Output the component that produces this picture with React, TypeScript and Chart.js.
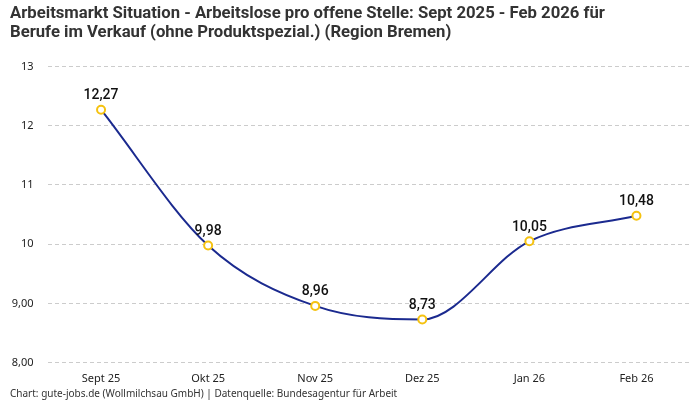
import { useEffect, useRef } from 'react';
import { Chart, registerables } from 'chart.js';
import type { Plugin } from 'chart.js';

Chart.register(...registerables);

const months = ['Sept 25', 'Okt 25', 'Nov 25', 'Dez 25', 'Jan 26', 'Feb 26'];
const ratio = [12.27, 9.98, 8.96, 8.73, 10.05, 10.48];
const yTickLabels: Record<number, string> = { 8: '8,00', 9: '9,00', 10: '10', 11: '11', 12: '12', 13: '13' };

const titleLines = [
  'Arbeitsmarkt Situation - Arbeitslose pro offene Stelle: Sept 2025 - Feb 2026 für',
  'Berufe im Verkauf (ohne Produktspezial.) (Region Bremen)',
];
const sourceText = 'Chart: gute-jobs.de (Wollmilchsau GmbH) | Datenquelle: Bundesagentur für Arbeit';

const fmtDe = (v: number) => v.toFixed(2).replace('.', ',');

const valueLabels: Plugin<'line'> = {
  id: 'valueLabels',
  afterDatasetsDraw(chart) {
    const { ctx } = chart;
    const meta = chart.getDatasetMeta(0);
    ctx.save();
    ctx.font = '500 14px Roboto, sans-serif';
    ctx.fillStyle = '#111';
    ctx.textAlign = 'center';
    ctx.textBaseline = 'bottom';
    meta.data.forEach((pt, i) => {
      ctx.fillText(fmtDe(ratio[i]), pt.x, pt.y - 7);
    });
    ctx.restore();
  },
};

export default function App() {
  const canvasRef = useRef<HTMLCanvasElement>(null);

  useEffect(() => {
    if (!canvasRef.current) return;
    const chart = new Chart(canvasRef.current, {
      type: 'line',
      data: {
        labels: months,
        datasets: [{
          label: 'Arbeitslose pro offene Stelle',
          data: ratio,
          borderColor: '#1b2a8f',
          borderWidth: 2,
          cubicInterpolationMode: 'monotone',
          pointBackgroundColor: '#fff',
          pointBorderColor: '#f5c211',
          pointBorderWidth: 2,
          pointRadius: 4,
        }],
      },
      options: {
        responsive: true,
        maintainAspectRatio: false,
        animation: false,
        layout: { padding: { left: 10, right: 10, top: 4, bottom: 0 } },
        plugins: {
          legend: { display: false },
          tooltip: { enabled: false },
          title: {
            display: true,
            text: titleLines,
            align: 'start',
            color: '#333',
            font: { family: 'Roboto, sans-serif', size: 16.7, weight: 'bold', lineHeight: 1.15 },
            padding: { top: 0, bottom: 24 },
          },
          subtitle: {
            display: true,
            position: 'bottom',
            text: sourceText,
            align: 'start',
            color: '#333',
            font: { family: '"Noto Sans", sans-serif', size: 10 },
            padding: { top: 2, bottom: 0 },
          },
        },
        scales: {
          x: {
            offset: true,
            grid: { display: false },
            border: { display: false },
            ticks: { color: '#222', font: { family: '"Noto Sans", sans-serif', size: 11 }, padding: 1 },
          },
          y: {
            min: 8,
            max: 13,
            afterFit: (scale) => { scale.width = 37.5; },
            border: { display: false, dash: [4, 3] },
            grid: { color: '#cccccc', drawTicks: false },
            ticks: {
              stepSize: 1,
              padding: 14,
              color: '#222',
              font: { family: '"Noto Sans", sans-serif', size: 11 },
              callback: (v) => yTickLabels[Number(v)] ?? String(v),
            },
          },
        },
      },
      plugins: [valueLabels],
    });
    return () => chart.destroy();
  }, []);

  return (
    <div style={{ position: 'fixed', left: 0, top: 0, width: 700, height: 400, background: '#fff' }}>
      <canvas ref={canvasRef} />
    </div>
  );
}
